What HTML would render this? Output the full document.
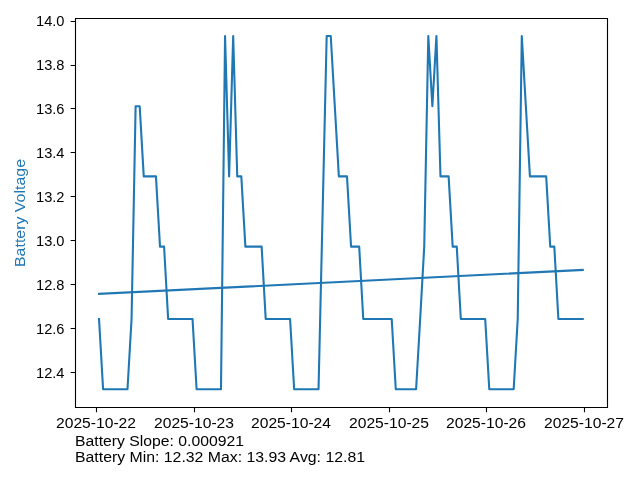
<!DOCTYPE html>
<html><head><meta charset="utf-8"><title>Battery Voltage</title>
<style>html,body{margin:0;padding:0;background:#fff;width:640px;height:480px;overflow:hidden;font-family:"Liberation Sans",sans-serif;}svg{display:block;will-change:transform;}</style>
</head><body>
<svg width="640" height="480" viewBox="0 0 640 480">
<rect x="0" y="0" width="640" height="480" fill="#ffffff"/>
<path d="M99.04 319.05 L103.10 389.28 L107.17 389.28 L111.23 389.28 L115.30 389.28 L119.36 389.28 L123.43 389.28 L127.49 389.28 L131.56 319.05 L135.62 106.19 L139.69 106.19 L143.75 176.41 L147.82 176.41 L151.88 176.41 L155.95 176.41 L160.01 246.63 L164.08 246.63 L168.14 319.05 L172.21 319.05 L176.27 319.05 L180.34 319.05 L184.40 319.05 L188.47 319.05 L192.53 319.05 L196.60 389.28 L200.66 389.28 L204.73 389.28 L208.79 389.28 L212.86 389.28 L216.92 389.28 L220.99 389.28 L225.05 35.96 L229.12 176.41 L233.18 35.96 L237.25 176.41 L241.31 176.41 L245.38 246.63 L249.44 246.63 L253.51 246.63 L257.57 246.63 L261.64 246.63 L265.70 319.05 L269.77 319.05 L273.83 319.05 L277.90 319.05 L281.96 319.05 L286.03 319.05 L290.09 319.05 L294.16 389.28 L298.22 389.28 L302.28 389.28 L306.35 389.28 L310.41 389.28 L314.48 389.28 L318.54 389.28 L326.67 35.96 L330.74 35.96 L334.80 106.19 L338.87 176.41 L342.93 176.41 L347.00 176.41 L351.06 246.63 L355.13 246.63 L359.19 246.63 L363.26 319.05 L367.32 319.05 L371.39 319.05 L375.45 319.05 L379.52 319.05 L383.58 319.05 L387.65 319.05 L391.71 319.05 L395.78 389.28 L399.84 389.28 L403.91 389.28 L407.97 389.28 L412.04 389.28 L416.10 389.28 L420.17 319.05 L424.23 246.63 L428.30 35.96 L432.36 106.19 L436.43 35.96 L440.49 176.41 L444.56 176.41 L448.62 176.41 L452.69 246.63 L456.75 246.63 L460.82 319.05 L464.88 319.05 L468.95 319.05 L473.01 319.05 L477.08 319.05 L481.14 319.05 L485.21 319.05 L489.27 389.28 L493.34 389.28 L497.40 389.28 L501.47 389.28 L505.53 389.28 L509.59 389.28 L513.66 389.28 L517.72 319.05 L521.79 35.96 L525.85 106.19 L529.92 176.41 L533.98 176.41 L538.05 176.41 L542.11 176.41 L546.18 176.41 L550.24 246.63 L554.31 246.63 L558.37 319.05 L562.44 319.05 L566.50 319.05 L570.57 319.05 L574.63 319.05 L578.70 319.05 L582.76 319.05" fill="none" stroke="#1f77b4" stroke-width="2.0833" stroke-linejoin="round" stroke-linecap="square"/>
<path d="M99.04 293.90 L582.76 269.90" fill="none" stroke="#1f77b4" stroke-width="2.0833" stroke-linecap="square"/>
<path d="M75.5 18.5 L607.5 18.5 L607.5 407.5 L75.5 407.5 Z" fill="none" stroke="#000" stroke-width="1.111" stroke-linejoin="miter" stroke-linecap="square"/>
<path d="M96.5 407.5 L96.5 412.36 M194.5 407.5 L194.5 412.36 M291.5 407.5 L291.5 412.36 M389.5 407.5 L389.5 412.36 M486.5 407.5 L486.5 412.36 M584.5 407.5 L584.5 412.36 M75.5 21.5 L70.64 21.5 M75.5 65.5 L70.64 65.5 M75.5 108.5 L70.64 108.5 M75.5 152.5 L70.64 152.5 M75.5 196.5 L70.64 196.5 M75.5 240.5 L70.64 240.5 M75.5 284.5 L70.64 284.5 M75.5 328.5 L70.64 328.5 M75.5 372.5 L70.64 372.5" fill="none" stroke="#000" stroke-width="1.111"/>
<text x="56.00" y="428.00" font-family="Liberation Sans, sans-serif" font-size="13.889" textLength="80.00" lengthAdjust="spacingAndGlyphs" fill="#000">2025-10-22</text>
<text x="154.00" y="428.00" font-family="Liberation Sans, sans-serif" font-size="13.889" textLength="80.00" lengthAdjust="spacingAndGlyphs" fill="#000">2025-10-23</text>
<text x="251.00" y="428.00" font-family="Liberation Sans, sans-serif" font-size="13.889" textLength="80.00" lengthAdjust="spacingAndGlyphs" fill="#000">2025-10-24</text>
<text x="349.00" y="428.00" font-family="Liberation Sans, sans-serif" font-size="13.889" textLength="80.00" lengthAdjust="spacingAndGlyphs" fill="#000">2025-10-25</text>
<text x="446.00" y="428.00" font-family="Liberation Sans, sans-serif" font-size="13.889" textLength="80.00" lengthAdjust="spacingAndGlyphs" fill="#000">2025-10-26</text>
<text x="544.00" y="428.00" font-family="Liberation Sans, sans-serif" font-size="13.889" textLength="80.00" lengthAdjust="spacingAndGlyphs" fill="#000">2025-10-27</text>
<text x="36.00" y="378.00" font-family="Liberation Sans, sans-serif" font-size="13.889" textLength="28.50" lengthAdjust="spacingAndGlyphs" fill="#000">12.4</text>
<text x="36.00" y="334.00" font-family="Liberation Sans, sans-serif" font-size="13.889" textLength="28.50" lengthAdjust="spacingAndGlyphs" fill="#000">12.6</text>
<text x="36.00" y="290.00" font-family="Liberation Sans, sans-serif" font-size="13.889" textLength="28.50" lengthAdjust="spacingAndGlyphs" fill="#000">12.8</text>
<text x="36.00" y="246.00" font-family="Liberation Sans, sans-serif" font-size="13.889" textLength="28.50" lengthAdjust="spacingAndGlyphs" fill="#000">13.0</text>
<text x="36.00" y="202.00" font-family="Liberation Sans, sans-serif" font-size="13.889" textLength="28.50" lengthAdjust="spacingAndGlyphs" fill="#000">13.2</text>
<text x="36.00" y="158.00" font-family="Liberation Sans, sans-serif" font-size="13.889" textLength="28.50" lengthAdjust="spacingAndGlyphs" fill="#000">13.4</text>
<text x="36.00" y="114.00" font-family="Liberation Sans, sans-serif" font-size="13.889" textLength="28.50" lengthAdjust="spacingAndGlyphs" fill="#000">13.6</text>
<text x="36.00" y="70.00" font-family="Liberation Sans, sans-serif" font-size="13.889" textLength="28.50" lengthAdjust="spacingAndGlyphs" fill="#000">13.8</text>
<text x="36.00" y="26.00" font-family="Liberation Sans, sans-serif" font-size="13.889" textLength="28.50" lengthAdjust="spacingAndGlyphs" fill="#000">14.0</text>
<text transform="translate(25.00 267.00) rotate(-90)" x="0" y="0" font-family="Liberation Sans, sans-serif" font-size="13.889" textLength="108.00" lengthAdjust="spacingAndGlyphs" fill="#1f77b4">Battery Voltage</text>
<text x="75.00" y="445.50" font-family="Liberation Sans, sans-serif" font-size="13.889" textLength="169.00" lengthAdjust="spacingAndGlyphs" fill="#000">Battery Slope: 0.000921</text>
<text x="75.00" y="461.50" font-family="Liberation Sans, sans-serif" font-size="13.889" textLength="290.00" lengthAdjust="spacingAndGlyphs" fill="#000">Battery Min: 12.32 Max: 13.93 Avg: 12.81</text>
</svg>
</body></html>
